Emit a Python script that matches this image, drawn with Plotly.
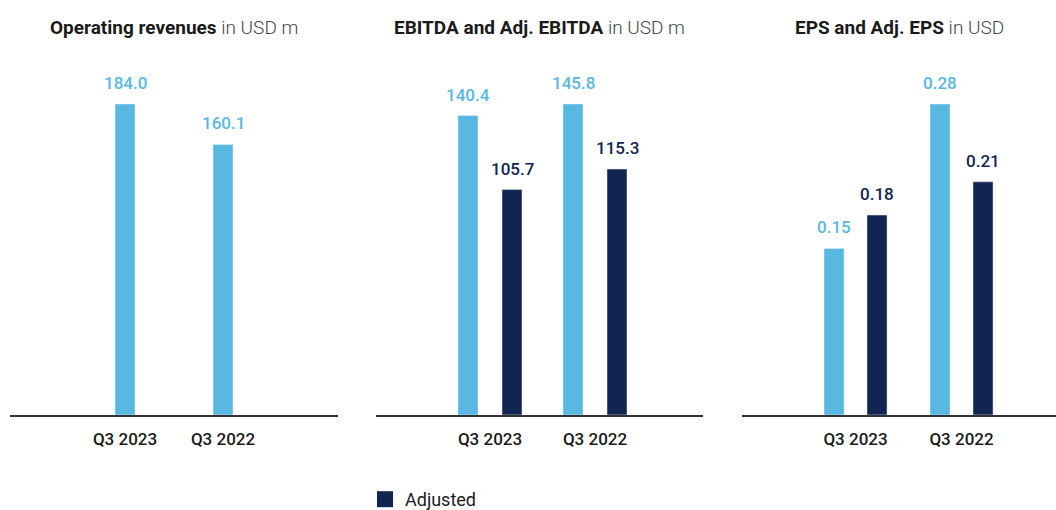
import plotly.graph_objects as go

categories = ["Q3 2023", "Q3 2022"]
revenues = [184.0, 160.1]
ebitda = [140.4, 145.8]
adj_ebitda = [105.7, 115.3]
eps = [0.15, 0.28]
adj_eps = [0.18, 0.21]
titles = [("Operating revenues", "in USD m"),
          ("EBITDA and Adj. EBITDA", "in USD m"),
          ("EPS and Adj. EPS", "in USD")]

LIGHT = "#58b8e2"
DARK = "#112452"
FONT = "Roboto"
W, H = 1056, 510


def px_x(a):
    return a / W


def px_y(a):
    return (H - a) / H


def xd(a, b):
    return [px_x(a), px_x(b)]


ydom = [px_y(415), px_y(60)]

fig = go.Figure()

fig.add_trace(go.Bar(x=categories, y=revenues, marker_color=LIGHT, width=0.204,
                     xaxis="x", yaxis="y", showlegend=False, name="Reported"))
fig.add_trace(go.Bar(x=categories, y=ebitda, marker_color=LIGHT, width=0.1905, offset=-0.3048,
                     xaxis="x2", yaxis="y2", showlegend=False, name="Reported"))
fig.add_trace(go.Bar(x=categories, y=adj_ebitda, marker_color=DARK, width=0.1905, offset=0.1143,
                     xaxis="x2", yaxis="y2", showlegend=False, name="Adjusted"))
fig.add_trace(go.Bar(x=categories, y=eps, marker_color=LIGHT, width=0.189, offset=-0.297,
                     xaxis="x3", yaxis="y3", showlegend=False, name="Reported"))
fig.add_trace(go.Bar(x=categories, y=adj_eps, marker_color=DARK, width=0.189, offset=0.1085,
                     xaxis="x3", yaxis="y3", showlegend=False, name="Adjusted"))
# legend entry (square swatch)
fig.add_trace(go.Scatter(x=[None], y=[None], mode="markers", name="Adjusted",
                         marker=dict(symbol="square", size=16, color=DARK),
                         xaxis="x2", yaxis="y2", showlegend=True))


def labels(xref, yref, vals, fmt, color, shift):
    for c, v in zip(categories, vals):
        fig.add_annotation(x=c, y=v, xref=xref, yref=yref, text=fmt.format(v),
                           showarrow=False, yanchor="bottom", yshift=9, xshift=shift,
                           font=dict(family=FONT, size=17, color=color, weight=500))


labels("x", "y", revenues, "{:.1f}", LIGHT, 0)
labels("x2", "y2", ebitda, "{:.1f}", LIGHT, -22)
labels("x2", "y2", adj_ebitda, "{:.1f}", DARK, 22)
labels("x3", "y3", eps, "{:.2f}", LIGHT, -21.5)
labels("x3", "y3", adj_eps, "{:.2f}", DARK, 21.5)

for i, (b, r) in enumerate(titles):
    ax = "x" if i == 0 else f"x{i+1}"
    fig.add_annotation(xref=f"{ax} domain", yref="paper", x=0.5, y=px_y(27),
                       text=f"<b>{b}</b> <span style='color:#444;font-weight:300'>{r}</span>",
                       showarrow=False, xanchor="center", yanchor="middle",
                       font=dict(family=FONT, size=19, color="#1a1a1a", weight=500))

xcommon = dict(type="category", showgrid=False, zeroline=False, showline=True,
               linecolor="#333333", linewidth=1.5, ticks="", fixedrange=True,
               ticklabelstandoff=8,
               tickfont=dict(family=FONT, size=17, color="#1a1a1a", weight=500))
ycommon = dict(visible=False, showgrid=False, zeroline=False, domain=ydom, fixedrange=True)

fig.update_layout(
    width=W, height=H, margin=dict(l=0, r=0, t=0, b=0, autoexpand=False),
    paper_bgcolor="white", plot_bgcolor="white",
    barmode="group",
    xaxis=dict(xcommon, domain=xd(10, 338), range=[-1.1735, 2.1735], anchor="y"),
    xaxis2=dict(xcommon, domain=xd(376, 703), range=[-1.0857, 2.0286], anchor="y2"),
    xaxis3=dict(xcommon, domain=xd(742, 1056), range=[-1.0708, 1.8915], anchor="y3"),
    yaxis=dict(ycommon, range=[0, 184.0 * 355 / 311], anchor="x"),
    yaxis2=dict(ycommon, range=[0, 145.8 * 355 / 311], anchor="x2"),
    yaxis3=dict(ycommon, range=[0, 0.28 * 355 / 311], anchor="x3"),
    legend=dict(x=px_x(365), y=-8 / H, xanchor="left", yanchor="bottom", orientation="h",
                font=dict(family=FONT, size=18, color="#1a1a1a"),
                bgcolor="rgba(0,0,0,0)", itemwidth=30),
    font=dict(family=FONT),
)

fig.write_html("out.html", config={"displayModeBar": False},
               post_script="document.body.style.margin='0';document.body.style.overflow='hidden';")
